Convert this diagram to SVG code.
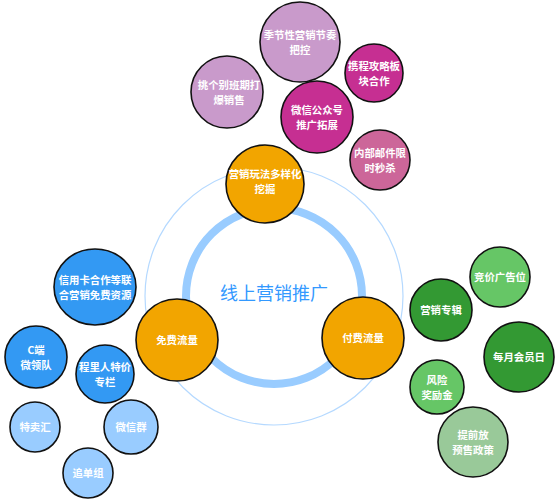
<svg xmlns="http://www.w3.org/2000/svg" width="557" height="500" viewBox="0 0 557 500">
<style>
.n{stroke:#111;stroke-width:1.6}
.t{font-family:"Noto Sans CJK SC","Noto Sans",sans-serif;font-size:10.4px;font-weight:bold;fill:#fff;text-anchor:middle}
.org{fill:#f2a500}
.p1{fill:#c99acb}
.p2{fill:#c62f92}
.p3{fill:#cc6699}
.b1{fill:#3399f3}
.b2{fill:#99ccff}
.g1{fill:#66c666}
.g2{fill:#339933}
.g3{fill:#99c999}
</style>
<rect width="557" height="500" fill="#fff"/>
<g id="rings">
<circle cx="274" cy="296" r="129" fill="none" stroke="#b5d9ff" stroke-width="1.2"/>
<circle cx="274" cy="296" r="88" fill="none" stroke="#99ccff" stroke-width="8"/>
</g>
<g id="connectors"></g>
<g id="center"><text x="274" y="300" style="font-family:'Noto Sans CJK SC',sans-serif;font-size:18px;fill:#3399ff;text-anchor:middle">线上营销推广</text></g>

<g id="n-jijie"><circle class="n p1" cx="300" cy="42" r="40"/><text class="t" x="300" y="39">季节性营销节奏</text><text class="t" x="300" y="54">把控</text></g>
<g id="n-tiao"><circle class="n p1" cx="227" cy="92" r="36"/><text class="t" x="229" y="89">挑个别班期打</text><text class="t" x="229" y="104">爆销售</text></g>
<g id="n-xiecheng"><circle class="n p2" cx="374" cy="73" r="29"/><text class="t" x="374" y="70">携程攻略板</text><text class="t" x="374" y="85">块合作</text></g>
<g id="n-weixin"><circle class="n p2" cx="317" cy="117" r="36"/><text class="t" x="317" y="114">微信公众号</text><text class="t" x="317" y="129">推广拓展</text></g>
<g id="n-neibu"><circle class="n p3" cx="380" cy="160" r="30"/><text class="t" x="380" y="157">内部邮件限</text><text class="t" x="380" y="172">时秒杀</text></g>

<g id="n-yingxiao"><circle class="n org" cx="265" cy="184" r="39"/><text class="t" x="265" y="178">营销玩法多样化</text><text class="t" x="265" y="193">挖掘</text></g>
<g id="n-mianfei"><circle class="n org" cx="177" cy="340" r="41"/><text class="t" x="177" y="344">免费流量</text></g>
<g id="n-fufei"><circle class="n org" cx="363" cy="338" r="41"/><text class="t" x="363" y="342">付费流量</text></g>

<g id="n-xinyong"><ellipse class="n b1" cx="95" cy="287" rx="41" ry="38"/><text class="t" x="95" y="284">信用卡合作等联</text><text class="t" x="95" y="299">合营销免费资源</text></g>
<g id="n-cduan"><circle class="n b1" cx="36" cy="357" r="31"/><text class="t" x="36" y="354">C端</text><text class="t" x="36" y="369">微领队</text></g>
<g id="n-chengli"><circle class="n b1" cx="105" cy="374" r="29"/><text class="t" x="105" y="371">程里人特价</text><text class="t" x="105" y="386">专栏</text></g>
<g id="n-temai"><circle class="n b2" cx="35" cy="427" r="25"/><text class="t" x="35" y="431">特卖汇</text></g>
<g id="n-weixinqun"><circle class="n b2" cx="131" cy="427" r="27"/><text class="t" x="131" y="431">微信群</text></g>
<g id="n-zhuidan"><circle class="n b2" cx="88" cy="473" r="25"/><text class="t" x="88" y="477">追单组</text></g>

<g id="n-jingjia"><circle class="n g1" cx="500" cy="277" r="30"/><text class="t" x="500" y="281">竞价广告位</text></g>
<g id="n-zhuanji"><circle class="n g2" cx="441" cy="310" r="31"/><text class="t" x="441" y="314">营销专辑</text></g>
<g id="n-huiyuan"><circle class="n g2" cx="519" cy="357" r="35"/><text class="t" x="519" y="361">每月会员日</text></g>
<g id="n-fengxian"><circle class="n g1" cx="437" cy="387" r="27"/><text class="t" x="437" y="384">风险</text><text class="t" x="437" y="399">奖励金</text></g>
<g id="n-tiqian"><circle class="n g3" cx="473" cy="442" r="35"/><text class="t" x="473" y="439">提前放</text><text class="t" x="473" y="454">预售政策</text></g>
</svg>
